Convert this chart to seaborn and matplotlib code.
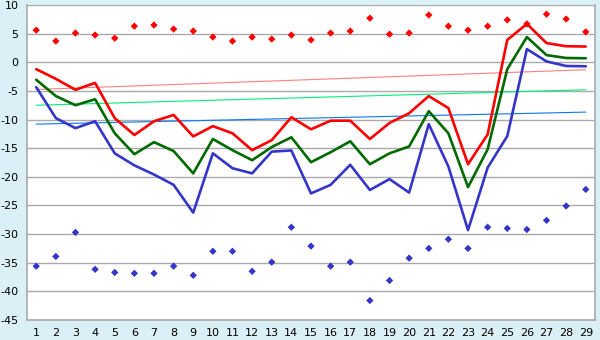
import matplotlib
matplotlib.use("Agg")
import matplotlib.pyplot as plt
import seaborn as sns

# data
days = list(range(1, 30))

red_points = [5.6, 3.7, 5.1, 4.75, 4.2, 6.3, 6.5, 5.8, 5.45, 4.4,
              3.7, 4.4, 4.05, 4.75, 3.9, 5.1, 5.45, 7.7, 4.9, 5.1,
              8.25, 6.3, 5.6, 6.3, 7.4, 6.7, 8.4, 7.55, 5.3]
blue_points = [-35.6, -33.9, -29.7, -36.15, -36.7, -36.85, -36.85, -35.6, -37.2, -33.0,
               -33.0, -36.5, -34.9, -28.8, -32.1, -35.6, -34.9, -41.6, -38.1, -34.2,
               -32.5, -30.9, -32.5, -28.8, -29.0, -29.2, -27.6, -25.1, -22.2]

red_line = [-1.2, -2.9, -4.8, -3.6, -9.75, -12.7, -10.3, -9.2, -12.95, -11.15,
            -12.4, -15.35, -13.6, -9.6, -11.7, -10.2, -10.2, -13.4, -10.6, -8.9,
            -5.9, -8.0, -17.8, -12.6, 3.9, 6.7, 3.35, 2.8, 2.75]
green_line = [-3.05, -5.9, -7.5, -6.45, -12.4, -16.05, -13.95, -15.5, -19.4, -13.4,
              -15.35, -17.1, -14.8, -13.1, -17.45, -15.7, -13.8, -17.8, -15.9, -14.7,
              -8.55, -12.4, -21.8, -15.2, -1.2, 4.4, 1.25, 0.75, 0.7]
blue_line = [-4.35, -9.75, -11.5, -10.3, -15.9, -18.0, -19.6, -21.4, -26.25, -15.9,
             -18.5, -19.4, -15.6, -15.4, -22.9, -21.4, -17.9, -22.3, -20.4, -22.75,
             -10.8, -18.2, -29.3, -18.4, -12.9, 2.3, 0.15, -0.65, -0.7]

# straight guide lines: value at day 1 and at day 29
trend_days = [1, 29]
red_trend = [-4.75, -1.3]
green_trend = [-7.5, -4.8]
blue_trend = [-10.8, -8.7]

y_ticks = list(range(-45, 11, 5))

sns.set_style("white")
plt.rcParams["font.family"] = ["DejaVu Sans"]
plt.rcParams["axes.unicode_minus"] = False

fig = plt.figure(figsize=(6, 3.4), dpi=100, facecolor="#daeff6")
ax = fig.add_axes([27 / 600, 1 - 320 / 340, 568 / 600, 315 / 340])
ax.set_facecolor("white")

# thin guide lines
sns.lineplot(x=trend_days, y=red_trend, color="#ff7f7f", linewidth=0.8, ax=ax)
sns.lineplot(x=trend_days, y=green_trend, color="#00f07a", linewidth=0.8, ax=ax)
sns.lineplot(x=trend_days, y=blue_trend, color="#0a78f0", linewidth=0.8, ax=ax)

# main series
sns.lineplot(x=days, y=blue_line, color="#3535c8", linewidth=1.9, ax=ax)
sns.lineplot(x=days, y=green_line, color="#006a00", linewidth=1.9, ax=ax)
sns.lineplot(x=days, y=red_line, color="#ff0000", linewidth=1.9, ax=ax)

sns.scatterplot(x=days, y=red_points, color="#ff0000", marker="D", s=14,
                edgecolor="none", ax=ax, zorder=4)
sns.scatterplot(x=days, y=blue_points, color="#3535c8", marker="D", s=14,
                edgecolor="none", ax=ax, zorder=4)

ax.set_xlim(0.53, 29.47)
ax.set_ylim(-45, 10)
ax.set_xticks(days)
ax.set_yticks(y_ticks)
ax.tick_params(axis="both", labelsize=8, colors="#000000", length=4, width=1,
               direction="out", pad=2)
ax.yaxis.grid(True, color="#aaaaaa", linewidth=1)
ax.set_axisbelow(True)

for side in ["left", "bottom", "right"]:
    ax.spines[side].set_visible(True)
    ax.spines[side].set_color("#aaaaaa")
    ax.spines[side].set_linewidth(1.2)
ax.spines["top"].set_visible(False)

ax.set_xlabel("")
ax.set_ylabel("")

fig.savefig("out.png", dpi=100, facecolor=fig.get_facecolor())
